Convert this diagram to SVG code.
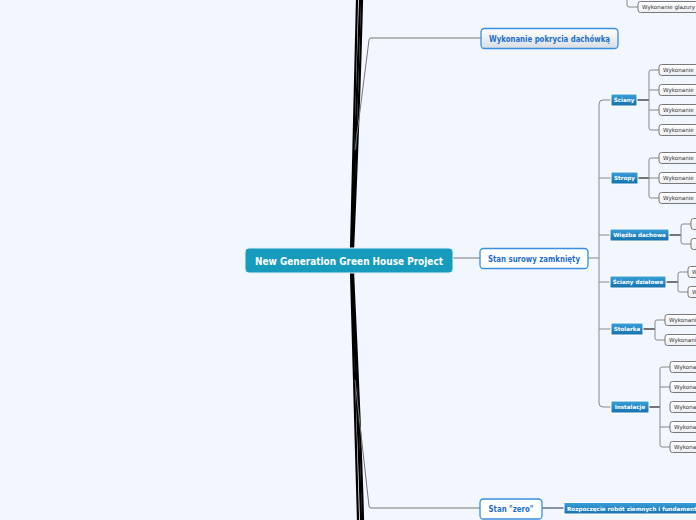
<svg xmlns="http://www.w3.org/2000/svg" width="696" height="520" viewBox="0 0 696 520">
<defs>
<linearGradient id="gBlue" x1="0" y1="0" x2="0" y2="1"><stop offset="0" stop-color="#3aa0da"/><stop offset="1" stop-color="#1470ad"/></linearGradient>
<linearGradient id="gGray" x1="0" y1="0" x2="0" y2="1"><stop offset="0" stop-color="#ffffff"/><stop offset="1" stop-color="#d9dde3"/></linearGradient>
<linearGradient id="gLeaf" x1="0" y1="0" x2="0" y2="1"><stop offset="0" stop-color="#ffffff"/><stop offset="1" stop-color="#eceef2"/></linearGradient>
</defs>
<style>
.f{font-family:"DejaVu Sans",Verdana,sans-serif}
.main{fill:#169bbd;stroke:#e6f3f8;stroke-width:1}
.mt{fill:#fff;font-weight:bold;font-size:10px}
.l1{fill:#fff;stroke:#3b8fe0;stroke-width:1.3}
.l1t{fill:#1f6fc9;font-weight:bold;font-size:8px}
.l2{fill:url(#gBlue);stroke:#fff;stroke-width:1}
.l2t{fill:#fff;font-weight:bold;font-size:5.6px}
.l3{fill:url(#gLeaf);stroke:#6b6b6b;stroke-width:0.9}
.l3t{fill:#333;font-size:5.6px}
.thick{fill:none;stroke:#000;stroke-width:2.2}
.thin{fill:none;stroke:#777;stroke-width:1}
.c2{fill:none;stroke:#888;stroke-width:1}
.c3{fill:none;stroke:#555;stroke-width:1.6}
</style>
<rect width="696" height="520" fill="#f2f6fe"/>
<g id="connectors">
<path class="thick" d="M351,250 C353,160 355,80 357,0"/>
<path class="thick" d="M352,250 C355,160 358,80 360,0"/>
<path class="thick" d="M353,250 C357,160 360,80 362,0"/>
<path class="thick" d="M351,272 C353,360 356,440 358,520"/>
<path class="thick" d="M352,272 C355,360 359,440 361,520"/>
<path class="thick" d="M353,272 C357,360 361,440 363,520"/>
<path class="thin" d="M355,150 L369,40 Q369,38 371,38 L481,38"/>
<path class="thin" d="M355,380 L369,506 Q369,508 371,508 L480,508"/>
<path class="thin" d="M453,258 L480,258"/>
<path class="c2" d="M588,258 L599,258"/>
<path class="c2" d="M611,100 L603,100 Q599,100 599,104 L599,403 Q599,407 603,407 L611,407"/>
<path class="c2" d="M599,178 L611,178 M599,235 L610,235 M599,282 L610,282 M599,329 L611,329"/>
<path class="c3" d="M637,100 L649,100"/>
<path class="c2" d="M659,70 L651,70 Q649,70 649,72 L649,128 Q649,130 651,130 L659,130 M649,90 L659,90 M649,110 L659,110"/>
<path class="c3" d="M638,178 L649,178"/>
<path class="c2" d="M659,158 L651,158 Q649,158 649,160 L649,196 Q649,198 651,198 L659,198 M649,178 L659,178"/>
<path class="c3" d="M669,235 L681,235"/>
<path class="c2" d="M691,224 L683,224 Q681,224 681,226 L681,242 Q681,244 683,244 L691,244"/>
<path class="c3" d="M666,282 L678,282"/>
<path class="c2" d="M688,272 L680,272 Q678,272 678,274 L678,290 Q678,292 680,292 L688,292"/>
<path class="c3" d="M643,329 L655,329"/>
<path class="c2" d="M665,320 L657,320 Q655,320 655,322 L655,338 Q655,340 657,340 L665,340"/>
<path class="c3" d="M649,407 L660,407"/>
<path class="c2" d="M670,367 L662,367 Q660,367 660,369 L660,445 Q660,447 662,447 L670,447 M660,387 L670,387 M660,427 L670,427"/>
<path class="c2" d="M627,0 L627,5 Q627,7 629,7 L638,7"/>
<path d="M542,508 L564,508" fill="none" stroke="#8a94a0" stroke-width="2"/>
</g>
<g id="n-main" class="f"><rect class="main" x="245" y="248" width="208" height="25" rx="4"/><text class="mt" x="349" y="264.5" text-anchor="middle" textLength="188" lengthAdjust="spacingAndGlyphs">New Generation Green House Project</text></g>
<g id="n-pokrycie" class="f"><rect x="481" y="28.5" width="137" height="20" rx="3.5" fill="url(#gGray)" stroke="#3b8fe0" stroke-width="1.3"/><text class="l1t" x="549.5" y="41.5" text-anchor="middle" textLength="121" lengthAdjust="spacingAndGlyphs">Wykonanie pokrycia dachówką</text></g>
<g id="n-surowy" class="f"><rect class="l1" x="480" y="248.5" width="108" height="20" rx="3.5"/><text class="l1t" x="534" y="261.5" text-anchor="middle" textLength="92" lengthAdjust="spacingAndGlyphs">Stan surowy zamknięty</text></g>
<g id="n-zero" class="f"><rect class="l1" x="480" y="499" width="62" height="20" rx="3.5"/><text class="l1t" x="511" y="512" text-anchor="middle" textLength="45" lengthAdjust="spacingAndGlyphs">Stan "zero"</text></g>
<g id="n-rozpoczecie" class="f"><rect class="l2" x="564" y="502.5" width="150" height="11.5" rx="1"/><text class="l2t" x="567" y="510.5">Rozpoczęcie robót ziemnych i fundamentów</text></g>
<g id="n-sciany" class="f"><rect class="l2" x="611" y="94" width="26" height="12" rx="1"/><text class="l2t" x="624" y="102" text-anchor="middle">Ściany</text></g>
<g id="n-stropy" class="f"><rect class="l2" x="611" y="172" width="27" height="12" rx="1"/><text class="l2t" x="624.5" y="180" text-anchor="middle">Stropy</text></g>
<g id="n-wiezba" class="f"><rect class="l2" x="610" y="229" width="59" height="12" rx="1"/><text class="l2t" x="639.5" y="237" text-anchor="middle">Więźba dachowa</text></g>
<g id="n-dzialowe" class="f"><rect class="l2" x="610" y="276" width="56" height="12" rx="1"/><text class="l2t" x="638" y="284" text-anchor="middle">Ściany działowe</text></g>
<g id="n-stolarka" class="f"><rect class="l2" x="611" y="323" width="32" height="12" rx="1"/><text class="l2t" x="627" y="331" text-anchor="middle">Stolarka</text></g>
<g id="n-instalacje" class="f"><rect class="l2" x="611" y="401" width="38" height="12" rx="1"/><text class="l2t" x="630" y="409" text-anchor="middle">Instalacje</text></g>
<g id="n-glazura" class="f"><rect class="l3" x="638" y="1.5" width="62" height="11" rx="2.5"/><text class="l3t" x="642" y="9">Wykonanie glazury</text></g>
<g id="n-sc1" class="f"><rect class="l3" x="659" y="64.5" width="45" height="11" rx="2.5"/><text class="l3t" x="663" y="72">Wykonanie</text></g>
<g id="n-sc2" class="f"><rect class="l3" x="659" y="84.5" width="45" height="11" rx="2.5"/><text class="l3t" x="663" y="92">Wykonanie</text></g>
<g id="n-sc3" class="f"><rect class="l3" x="659" y="104.5" width="45" height="11" rx="2.5"/><text class="l3t" x="663" y="112">Wykonanie</text></g>
<g id="n-sc4" class="f"><rect class="l3" x="659" y="124.5" width="45" height="11" rx="2.5"/><text class="l3t" x="663" y="132">Wykonanie</text></g>
<g id="n-st1" class="f"><rect class="l3" x="659" y="152.5" width="45" height="11" rx="2.5"/><text class="l3t" x="663" y="160">Wykonanie</text></g>
<g id="n-st2" class="f"><rect class="l3" x="659" y="172.5" width="45" height="11" rx="2.5"/><text class="l3t" x="663" y="180">Wykonanie</text></g>
<g id="n-st3" class="f"><rect class="l3" x="659" y="192.5" width="45" height="11" rx="2.5"/><text class="l3t" x="663" y="200">Wykonanie</text></g>
<g id="n-wi1" class="f"><rect class="l3" x="691" y="218.5" width="20" height="11" rx="2.5"/></g>
<g id="n-wi2" class="f"><rect class="l3" x="691" y="238.5" width="20" height="11" rx="2.5"/></g>
<g id="n-dz1" class="f"><rect class="l3" x="688" y="266.5" width="30" height="11" rx="2.5"/><text class="l3t" x="692" y="274">W</text></g>
<g id="n-dz2" class="f"><rect class="l3" x="688" y="286.5" width="30" height="11" rx="2.5"/><text class="l3t" x="692" y="294">W</text></g>
<g id="n-so1" class="f"><rect class="l3" x="665" y="314.5" width="45" height="11" rx="2.5"/><text class="l3t" x="669" y="322">Wykonanie</text></g>
<g id="n-so2" class="f"><rect class="l3" x="665" y="334.5" width="45" height="11" rx="2.5"/><text class="l3t" x="669" y="342">Wykonanie</text></g>
<g id="n-in1" class="f"><rect class="l3" x="670" y="361.5" width="45" height="11" rx="2.5"/><text class="l3t" x="674" y="369">Wykonanie</text></g>
<g id="n-in2" class="f"><rect class="l3" x="670" y="381.5" width="45" height="11" rx="2.5"/><text class="l3t" x="674" y="389">Wykonanie</text></g>
<g id="n-in3" class="f"><rect class="l3" x="670" y="401.5" width="45" height="11" rx="2.5"/><text class="l3t" x="674" y="409">Wykonanie</text></g>
<g id="n-in4" class="f"><rect class="l3" x="670" y="421.5" width="45" height="11" rx="2.5"/><text class="l3t" x="674" y="429">Wykonanie</text></g>
<g id="n-in5" class="f"><rect class="l3" x="670" y="441.5" width="45" height="11" rx="2.5"/><text class="l3t" x="674" y="449">Wykonanie</text></g>
</svg>
